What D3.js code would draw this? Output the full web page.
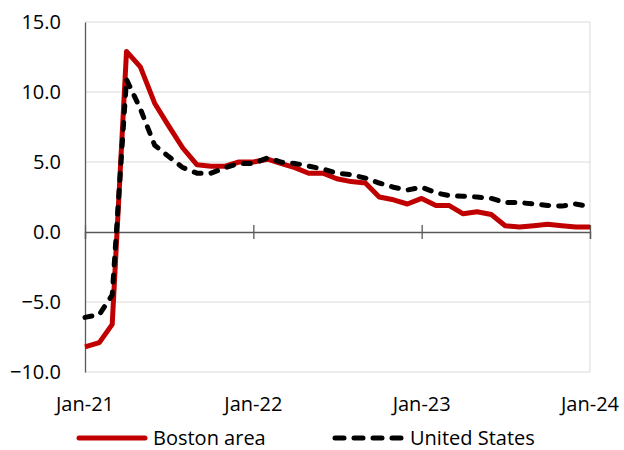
<!DOCTYPE html>
<html>
<head>
<meta charset="utf-8">
<script src="https://cdn.jsdelivr.net/npm/d3@7"></script>
<style>
  body { margin: 0; background: #fff; }
  text { font-family: "Open Sans", "Noto Sans", sans-serif; fill: #000; }
</style>
</head>
<body>
<div id="chart"></div>
<script>
// monthly, Jan-21 .. Jan-24
var months = d3.range(37).map(function(i) { return new Date(2021, i, 1); });

var boston = [-8.2, -7.9, -6.6, 12.9, 11.8, 9.2, 7.6, 6.0, 4.8, 4.7, 4.7, 5.0,
  5.0, 5.2, 4.9, 4.6, 4.2, 4.2, 3.8, 3.6, 3.5, 2.5, 2.3, 2.0,
  2.4, 1.9, 1.9, 1.3, 1.45, 1.25, 0.45, 0.35, 0.45, 0.55, 0.45, 0.35,
  0.35];

var us = [-6.1, -5.9, -4.5, 10.9, 8.8, 6.2, 5.4, 4.6, 4.2, 4.2, 4.6, 4.9,
  4.9, 5.3, 5.0, 4.9, 4.7, 4.5, 4.2, 4.1, 3.85, 3.5, 3.2, 3.0,
  3.2, 2.8, 2.6, 2.55, 2.5, 2.4, 2.1, 2.1, 2.0, 1.9, 1.85, 2.0,
  1.8];

var yTicks = [-10, -5, 0, 5, 10, 15];
var xTicks = [new Date(2021, 0, 1), new Date(2022, 0, 1), new Date(2023, 0, 1), new Date(2024, 0, 1)];
var seriesNames = ["Boston area", "United States"];

var margin = {top: 22, right: 34, bottom: 78, left: 85},
    width = 624 - margin.left - margin.right,
    height = 450 - margin.top - margin.bottom;

var svg = d3.select("#chart")
  .append("svg")
    .attr("width", 624)
    .attr("height", 450)
  .append("g")
    .attr("transform", "translate(" + margin.left + "," + margin.top + ")");

var x = d3.scaleTime()
    .domain([months[0], months[36]])
    .range([0, width]);

var y = d3.scaleLinear()
    .domain([-10, 15])
    .range([height, 0]);

// gridlines
svg.append("g")
  .selectAll("line")
  .data(yTicks.filter(function(d) { return d != 0; }))
  .enter().append("line")
    .attr("x1", 0)
    .attr("x2", width)
    .attr("y1", function(d) { return y(d); })
    .attr("y2", function(d) { return y(d); })
    .attr("stroke", "#d9d9d9")
    .attr("stroke-width", 1);

// right border
svg.append("line")
    .attr("x1", width).attr("x2", width)
    .attr("y1", 0).attr("y2", height)
    .attr("stroke", "#d9d9d9");

// y axis
var yAxis = svg.append("g")
    .call(d3.axisLeft(y).tickValues(yTicks).tickFormat(d3.format(".1f")).tickSize(0).tickPadding(24));
yAxis.select(".domain").attr("stroke", "#595959").attr("stroke-width", 1.3);
yAxis.selectAll("text").style("font-size", "20px").attr("fill", "#000").attr("dy", "0.33em");

// x axis at zero
var xAxis = svg.append("g")
    .attr("transform", "translate(0," + y(0) + ")")
    .call(d3.axisBottom(x).tickValues(xTicks).tickSize(7).tickFormat(""));
xAxis.select(".domain").attr("stroke", "#595959").attr("stroke-width", 1.3);
xAxis.selectAll(".tick line").attr("y1", -7).attr("stroke", "#595959").attr("stroke-width", 1.3);

// x labels at bottom
svg.append("g")
  .selectAll("text")
  .data(xTicks)
  .enter().append("text")
    .attr("x", function(d) { return x(d); })
    .attr("y", height + 39)
    .attr("text-anchor", "middle")
    .style("font-size", "20px")
    .text(d3.timeFormat("%b-%y"));

var line = d3.line()
    .x(function(d, i) { return x(months[i]); })
    .y(function(d) { return y(d); });

svg.append("path")
    .datum(boston)
    .attr("fill", "none")
    .attr("stroke", "#c00000")
    .attr("stroke-width", 5)
    .attr("stroke-linejoin", "round")
    .attr("d", line);

svg.append("path")
    .datum(us)
    .attr("fill", "none")
    .attr("stroke", "#000")
    .attr("stroke-width", 5)
    .attr("stroke-linecap", "round")
    .attr("stroke-dasharray", "7,10")
    .attr("d", line);

// legend
var legend = d3.select("svg").append("g");
var legX = [77, 333];
var legY = 438;
var legStyle = [{c: "#c00000", dash: null}, {c: "#000", dash: "9,10"}];

seriesNames.forEach(function(name, i) {
  legend.append("line")
      .attr("x1", legX[i] + 2)
      .attr("x2", legX[i] + 68)
      .attr("y1", legY).attr("y2", legY)
      .attr("stroke", legStyle[i].c)
      .attr("stroke-width", 5)
      .attr("stroke-linecap", "round")
      .attr("stroke-dasharray", legStyle[i].dash);
  legend.append("text")
      .attr("x", legX[i] + (i == 0 ? 76 : 77))
      .attr("y", legY)
      .attr("dy", "0.35em")
      .style("font-size", "20px")
      .text(name);
});
</script>
</body>
</html>
